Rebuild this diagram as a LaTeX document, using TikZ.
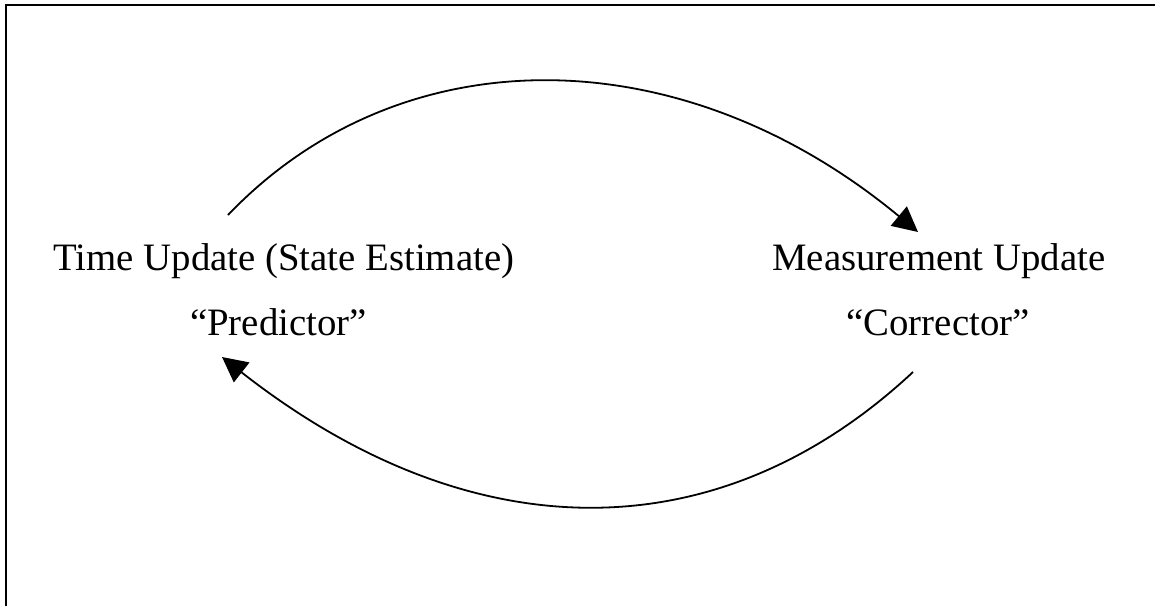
\documentclass[tikz,border=0pt]{standalone}
\usepackage{fontspec}
\setmainfont{Liberation Serif}
\usetikzlibrary{arrows.meta}
\begin{document}
\begin{tikzpicture}[x=0.5pt,y=-0.5pt,
  lbl/.style={inner sep=0pt,font=\fontsize{19.4pt}{23pt}\selectfont},
  frameline/.style={line width=1pt},
  cycarrow/.style={line width=0.9pt,-{Triangle[length=12.5pt,width=12.5pt]}}]
\useasboundingbox (0,0) rectangle (1155,606);
\draw[frameline] (5.5,606) -- (5.5,5) -- (1155,5);
\node[lbl,anchor=base west] (tu) at (53,270) {Time Update (State Estimate)};
\node[lbl,anchor=base] (pr) at (278.5,335) {“Predictor”};
\node[lbl,anchor=base west] (mu) at (772,270) {Measurement Update};
\node[lbl,anchor=base] (co) at (938,335) {“Corrector”};
\coordinate (s1) at (228,215);
\coordinate (e1) at (918,232);
\coordinate (s2) at (913,372);
\coordinate (e2) at (222,357);
\draw[cycarrow] (s1) .. controls (400,35) and (680,35) .. (e1);
\draw[cycarrow] (s2) .. controls (719,553) and (472,553) .. (e2);
\end{tikzpicture}
\end{document}
